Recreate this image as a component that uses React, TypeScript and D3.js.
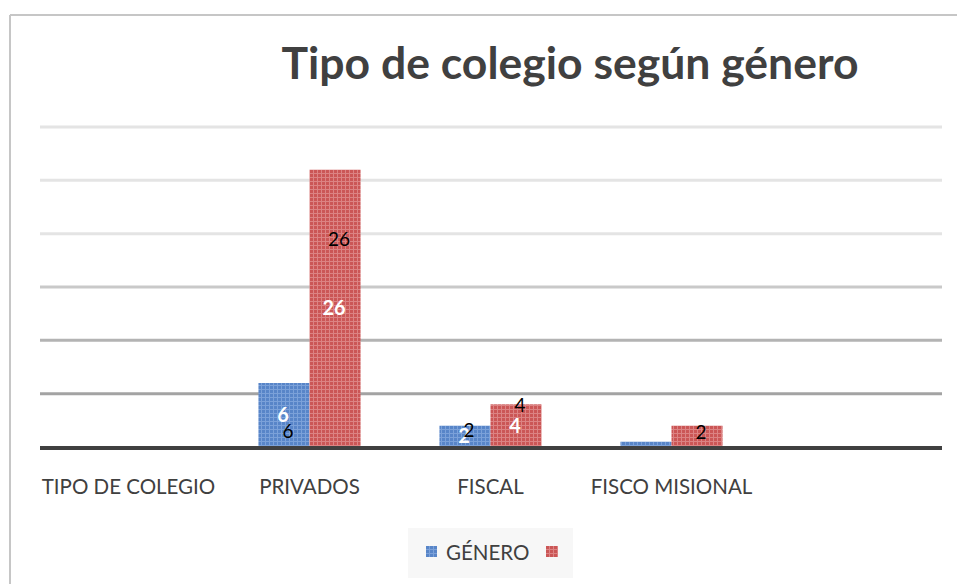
import React from "react";
import * as d3 from "d3";

const categories = ["TIPO DE COLEGIO", "PRIVADOS", "FISCAL", "FISCO MISIONAL", ""];
const seriesNames = ["GÉNERO", ""];
const blueValues = [0, 6, 2, 0.5, 0];
const redValues = [0, 26, 4, 2, 0];
// white (inside) labels, null = none
const blueWhiteLabels = [null, "6", "2", null, null];
const redWhiteLabels = [null, "26", "4", null, null];
// black labels and the value height at which they sit
const blueBlackLabels = [null, "6", "2", null, null];
const blueBlackAt = [0, 1.5, 1.6, 0, 0];
const redBlackLabels = [null, "26", "4", "2", null];
const redBlackAt = [0, 19.5, 3.9, 1.4, 0];
const yTicks = [5, 10, 15, 20, 25, 30];
const gridColors = ["#a3a3a3", "#b3b3b3", "#c9c9c9", "#e4e4e4", "#e4e4e4", "#e4e4e4"];

const W = 957;
const H = 584;
const FONT = "Lato, 'Open Sans', sans-serif";

export default function App() {
  const x0 = d3
    .scaleBand<string>()
    .domain(categories.map((c, i) => String(i)))
    .range([38, 943])
    .paddingInner(0.436)
    .paddingOuter(0.218);
  const x1 = d3.scaleBand<string>().domain(["b", "r"]).range([0, x0.bandwidth()]);
  const y = d3.scaleLinear().domain([0, 30]).range([447, 127]);

  const series = [
    { key: "b", vals: blueValues, fill: "url(#patB)", white: blueWhiteLabels, black: blueBlackLabels, at: blueBlackAt },
    { key: "r", vals: redValues, fill: "url(#patR)", white: redWhiteLabels, black: redBlackLabels, at: redBlackAt },
  ];

  return (
    <svg width={W} height={H} style={{ position: "absolute", left: 0, top: 0, background: "#fff" }}>
      <defs>
        <pattern id="patB" width="4" height="4" patternUnits="userSpaceOnUse">
          <rect width="4" height="4" fill="#5885c8" />
          <rect x="0" y="1" width="4" height="1" fill="#7ba1d9" />
          <rect x="1" y="0" width="1" height="4" fill="#7ba1d9" />
        </pattern>
        <pattern id="patR" width="4" height="4" patternUnits="userSpaceOnUse">
          <rect width="4" height="4" fill="#cb5656" />
          <rect x="0" y="1" width="4" height="1" fill="#dc8383" />
          <rect x="1" y="0" width="1" height="4" fill="#dc8383" />
        </pattern>
      </defs>
      {/* outer border */}
      <line x1={10} y1={15} x2={W} y2={15} stroke="#c6c6c6" strokeWidth={2} />
      <line x1={10} y1={15} x2={10} y2={H} stroke="#c6c6c6" strokeWidth={2} />

      <text x={570} y={79} textAnchor="middle" fontFamily={FONT} fontWeight="bold" fontSize={44.5} fill="#404040">
        Tipo de colegio según género
      </text>

      {yTicks.map((t, i) => (
        <line key={t} x1={40} x2={942} y1={y(t)} y2={y(t)} stroke={gridColors[i]} strokeWidth={3} />
      ))}

      {categories.map((c, i) =>
        series.map((s) => {
          const v = s.vals[i];
          const bx = (x0(String(i)) ?? 0) + (x1(s.key) ?? 0);
          const bw = x1.bandwidth();
          return v > 0 ? (
            <rect key={s.key + i} x={bx} y={y(v)} width={bw} height={y(0) - y(v)} fill={s.fill} />
          ) : null;
        })
      )}

      <line x1={40} x2={942} y1={y(0) + 1} y2={y(0) + 1} stroke="#404040" strokeWidth={4} />

      {categories.map((c, i) =>
        series.map((s) => {
          const v = s.vals[i];
          const bx = (x0(String(i)) ?? 0) + (x1(s.key) ?? 0);
          const bw = x1.bandwidth();
          const out: React.ReactNode[] = [];
          if (s.white[i]) {
            out.push(
              <text key={"w" + s.key + i} x={bx + bw / 2 - 1} y={y(v / 2) + 7} textAnchor="middle"
                fontFamily={FONT} fontWeight="bold" fontSize={20} fill="#ffffff">
                {s.white[i]}
              </text>
            );
          }
          if (s.black[i]) {
            out.push(
              <text key={"k" + s.key + i} x={bx + bw / 2 + 4} y={y(s.at[i]) + 7} textAnchor="middle"
                fontFamily={FONT} fontSize={19} fill="#000000">
                {s.black[i]}
              </text>
            );
          }
          return out;
        })
      )}

      {categories.map((c, i) => (
        <text key={"c" + i} x={(x0(String(i)) ?? 0) + x0.bandwidth() / 2} y={494} textAnchor="middle"
          fontFamily={FONT} fontSize={20.5} fill="#404040">
          {c}
        </text>
      ))}

      {/* legend */}
      <rect x={408} y={528} width={165} height={50} fill="#f7f7f7" />
      <rect x={426} y={546} width={11} height={11} fill="url(#patB)" />
      <text x={446} y={560} fontFamily={FONT} fontSize={20.5} fill="#404040">{seriesNames[0]}</text>
      <rect x={546} y={546} width={12} height={11} fill="url(#patR)" />
    </svg>
  );
}
